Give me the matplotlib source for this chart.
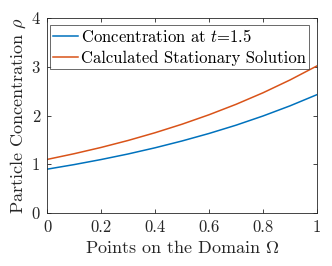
import matplotlib
matplotlib.use("Agg")
import matplotlib.pyplot as plt

plt.rcParams['font.family'] = 'serif'
plt.rcParams['font.serif'] = ['cmr10']
plt.rcParams['mathtext.fontset'] = 'cm'
plt.rcParams['axes.formatter.use_mathtext'] = True

x = [0.0, 0.1, 0.2, 0.3, 0.4, 0.5, 0.6, 0.7, 0.8, 0.9, 1.0]
conc_t15 = [0.90, 0.994, 1.098, 1.212, 1.339, 1.479, 1.633, 1.803, 1.992, 2.200, 2.43]
stationary = [1.10, 1.217, 1.346, 1.489, 1.648, 1.823, 2.017, 2.231, 2.468, 2.731, 3.02]
xticks = [0, 0.2, 0.4, 0.6, 0.8, 1]
xticklabels = ['0', '0.2', '0.4', '0.6', '0.8', '1']
yticks = [0, 1, 2, 3, 4]

gray = '#262626'
fig = plt.figure(figsize=(3.32, 2.66), dpi=100)
ax = fig.add_axes([0.1416, 0.199, 0.8134, 0.733])
ax.plot(x, conc_t15, color='#0072BD', lw=1.1, label=r'Concentration at $t$=1.5')
ax.plot(x, stationary, color='#D95319', lw=1.1, label='Calculated Stationary Solution')
ax.set_xlim(0, 1)
ax.set_ylim(0, 4)
ax.set_xticks(xticks)
ax.set_xticklabels(xticklabels)
ax.set_yticks(yticks)
ax.set_yticklabels([str(v) for v in yticks])
ax.tick_params(direction='in', length=3, width=0.6, colors=gray, labelsize=12, top=True, right=True, pad=5)
for s in ax.spines.values():
    s.set_color(gray)
    s.set_linewidth(0.6)
ax.set_xlabel(r'Points on the Domain $\Omega$', fontsize=13, color=gray, labelpad=3)
ax.set_ylabel(r'Particle Concentration $\rho$', fontsize=13, color=gray, labelpad=3)
leg = ax.legend(loc='upper left', bbox_to_anchor=(0.011, 0.965), fontsize=12, frameon=True,
                fancybox=False, edgecolor=gray, handlelength=1.5, handletextpad=0.15,
                borderpad=0.2, labelspacing=0.3, borderaxespad=0)
leg.get_frame().set_linewidth(0.6)
fig.savefig('out.png', dpi=100)
